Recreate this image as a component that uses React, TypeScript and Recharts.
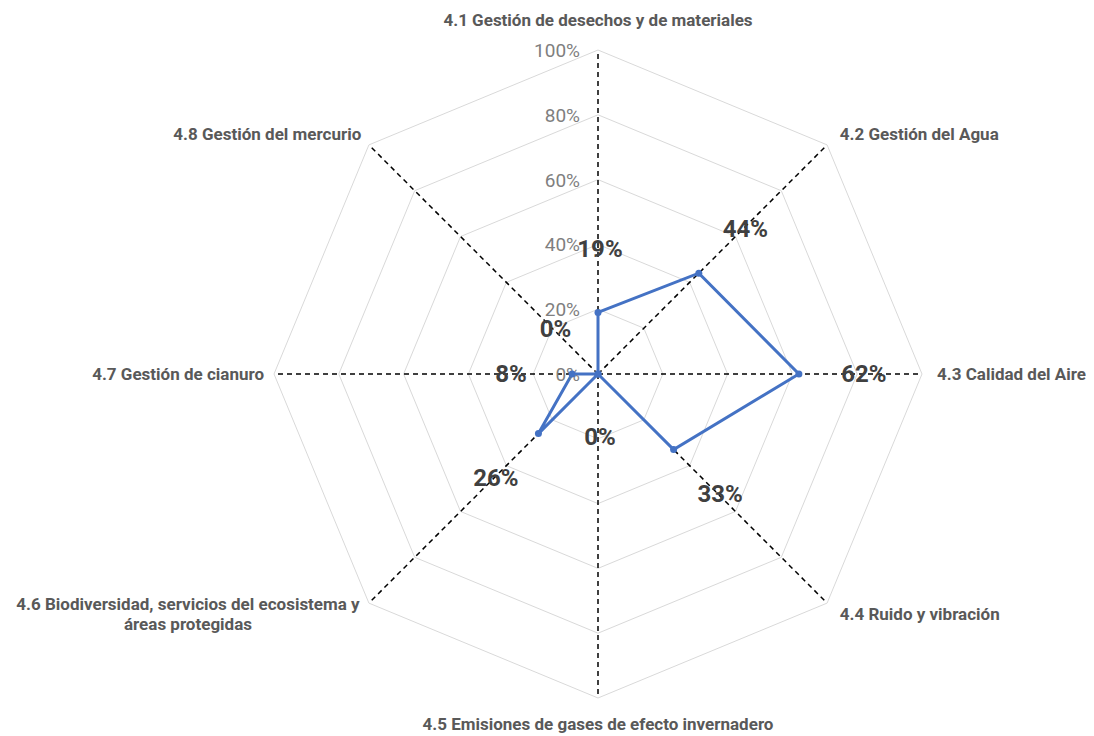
import { RadarChart, Radar, PolarGrid, PolarAngleAxis, PolarRadiusAxis } from 'recharts'

const categories = [
  '4.1 Gestión de desechos y de materiales',
  '4.2 Gestión del Agua',
  '4.3 Calidad del Aire',
  '4.4 Ruido y vibración',
  '4.5 Emisiones de gases de efecto invernadero',
  '4.6 Biodiversidad, servicios del ecosistema y áreas protegidas',
  '4.7 Gestión de cianuro',
  '4.8 Gestión del mercurio',
]
const scores = [19, 44, 62, 33, 0, 26, 8, 0]
const radiusTicks = [0, 20, 40, 60, 80, 100]

const chartData = categories.map((c, i) => ({ name: c, score: scores[i] }))

const FONT = 'Roboto, "DejaVu Sans", sans-serif'

function wrap(text: string, max: number) {
  const words = text.split(' ')
  const lines: string[] = []
  let cur = ''
  for (const w of words) {
    if (cur && (cur + ' ' + w).length > max) {
      lines.push(cur)
      cur = w
    } else {
      cur = cur ? cur + ' ' + w : w
    }
  }
  if (cur) lines.push(cur)
  return lines
}

function AngleTick(props: any) {
  const { x, y, textAnchor, payload, cx, cy } = props
  const dxv = x - cx
  const dyv = y - cy
  const len = Math.sqrt(dxv * dxv + dyv * dyv) || 1
  const sin = -dyv / len
  let dy = 6 - sin * 7
  if (textAnchor === 'middle') dy = sin > 0 ? -16 : 24
  const dx = textAnchor === 'start' ? 7 : textAnchor === 'end' ? -2 : 0
  const lines = wrap(String(payload.value), 46)
  if (lines.length > 1) {
    const w = lines[0].length * 7.7
    const mid = x + dx - w / 2
    const top = y + dy - ((lines.length - 1) * 20) / 2
    return (
      <text fontFamily={FONT} fontSize={17} fontWeight={700} fill="#595959" textAnchor="middle">
        {lines.map((l, i) => (
          <tspan key={i} x={mid} y={top + i * 20}>{l}</tspan>
        ))}
      </text>
    )
  }
  return (
    <text x={x + dx} y={y + dy} fontFamily={FONT} fontSize={17} fontWeight={700} fill="#595959" textAnchor={textAnchor}>
      {payload.value}
    </text>
  )
}

function RadiusTick(props: any) {
  const { x, y, payload } = props
  return (
    <text x={x - 18} y={y + 7} fontFamily={FONT} fontSize={19} fill="#7f7f7f" textAnchor="end">
      {payload.value}%
    </text>
  )
}

function ScoreDot(props: any) {
  const { cx, cy, index } = props
  const ang = (Math.PI / 2) - index * (Math.PI / 4)
  const off = 63
  const lx = cx + Math.cos(ang) * off
  const ly = cy - Math.sin(ang) * off
  return (
    <g key={`dot-${index}`}>
      <circle cx={cx} cy={cy} r={3.5} fill="#4472C4" />
      <text x={lx + 2} y={ly} dominantBaseline="central" textAnchor="middle" fontFamily={FONT} fontSize={24} fontWeight={700} fill="#404040">
        {scores[index]}%
      </text>
    </g>
  )
}

export default function App() {
  return (
    <div style={{ width: 1078, height: 728, background: '#fff' }}>
      <RadarChart width={1078} height={728} data={chartData} cx={590} cy={366} outerRadius={324}>
        <PolarGrid gridType="polygon" radialLines={false} stroke="#d9d9d9" strokeWidth={1} />
        <PolarGrid gridType="polygon" polarRadius={[]} stroke="#000" strokeWidth={1.5} strokeDasharray="5 4" />
        <PolarAngleAxis dataKey="name" tick={<AngleTick />} tickLine={false} axisLine={false} />
        <PolarRadiusAxis angle={90} domain={[0, 100]} ticks={radiusTicks} tickCount={6} axisLine={false} tick={<RadiusTick />} />
        <Radar dataKey="score" stroke="#4472C4" strokeWidth={3} fill="none" fillOpacity={0} dot={ScoreDot} isAnimationActive={false} />
      </RadarChart>
    </div>
  )
}
